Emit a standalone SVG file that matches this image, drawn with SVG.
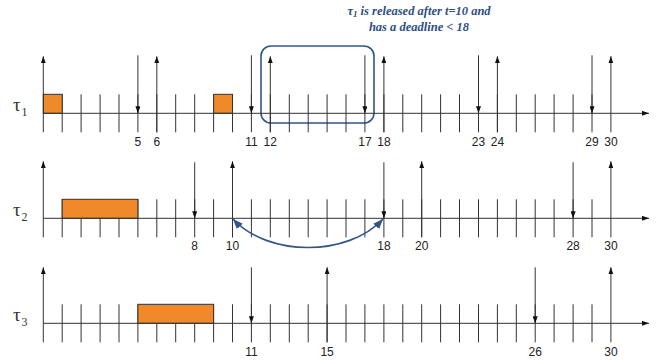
<svg xmlns="http://www.w3.org/2000/svg" xmlns:xlink="http://www.w3.org/1999/xlink" width="658" height="360" viewBox="0 0 658 360">
<style>
.ln{stroke:#333;stroke-width:1;fill:none}
.box{fill:#f0892a;stroke:#333;stroke-width:1}
.num{font-family:"Liberation Sans",Arial,sans-serif;font-size:12px;fill:#222;text-anchor:middle}
.tau{font-family:"Liberation Serif","Times New Roman",serif;fill:#333}
.note{font-family:"Liberation Serif","Times New Roman",serif;font-size:12.5px;font-weight:bold;font-style:italic;fill:#2f4f82;text-anchor:middle}
.blue{stroke:#31558a;stroke-width:1.6;fill:none}
</style>
<defs>
<marker id="ah" viewBox="0 0 7 5" refX="7" refY="2.5" markerWidth="7" markerHeight="5" markerUnits="userSpaceOnUse" orient="auto">
<path d="M0,0 L7,2.5 L0,5 z" fill="#111"/>
</marker>
<marker id="bh" viewBox="0 0 10 8" refX="10" refY="4" markerWidth="10" markerHeight="8" markerUnits="userSpaceOnUse" orient="auto-start-reverse">
<path d="M0,0 L10,4 L0,8 z" fill="#31558a"/>
</marker>
<path id="ticks" class="ln" d="M62.2,-19V19M81.1,-19V19M100.1,-19V19M119,-19V19M137.9,-19V19M156.8,-19V19M175.7,-19V19M194.7,-19V19M213.6,-19V19M232.5,-19V19M251.4,-19V19M270.3,-19V19M289.3,-19V19M308.2,-19V19M327.1,-19V19M346,-19V19M364.9,-19V19M383.9,-19V19M402.8,-19V19M421.7,-19V19M440.6,-19V19M459.5,-19V19M478.5,-19V19M497.4,-19V19M516.3,-19V19M535.2,-19V19M554.1,-19V19M573.1,-19V19M592,-19V19"/>
<path id="axis" class="ln" d="M43.3,0H649" marker-end="url(#ah)"/>
</defs>

<g id="annotation">
<text class="note" x="419" y="15">τ<tspan font-size="9" dy="2">1</tspan><tspan dy="-2"> is released after t=10 and</tspan></text>
<text class="note" x="419" y="31">has a deadline &lt; 18</text>
<rect x="261" y="46" width="113" height="77" rx="10" ry="10" class="blue"/>
</g>

<g id="tau1" transform="translate(0,113.3)">
<use xlink:href="#ticks"/>
<rect class="box" x="43.3" y="-19" width="18.9" height="19"/>
<rect class="box" x="213.6" y="-19" width="18.9" height="19"/>
<use xlink:href="#axis"/>
<g class="ln" marker-end="url(#ah)">
<path d="M43.3,19V-57"/><path d="M156.8,19V-57"/><path d="M270.3,19V-57"/><path d="M383.9,19V-57"/><path d="M497.4,19V-57"/><path d="M610.9,19V-57"/>
<path d="M137.9,-58V0"/><path d="M251.4,-58V0"/><path d="M364.9,-58V0"/><path d="M478.5,-58V0"/><path d="M592,-58V0"/>
</g>
<text class="tau" x="13" y="-2" font-size="19">τ</text><text class="tau" x="21.5" y="2.5" font-size="12">1</text>
<g class="num">
<text x="137.9" y="33">5</text><text x="156.8" y="33">6</text><text x="251.4" y="33">11</text><text x="270.3" y="33">12</text><text x="364.9" y="33">17</text><text x="383.9" y="33">18</text><text x="478.5" y="33">23</text><text x="497.4" y="33">24</text><text x="592" y="33">29</text><text x="610.9" y="33">30</text>
</g>
</g>

<g id="tau2" transform="translate(0,218.3)">
<use xlink:href="#ticks"/>
<rect class="box" x="62.2" y="-19" width="75.7" height="19"/>
<use xlink:href="#axis"/>
<g class="ln" marker-end="url(#ah)">
<path d="M43.3,19V-57"/><path d="M232.5,19V-57"/><path d="M421.7,19V-57"/><path d="M610.9,19V-57"/>
<path d="M194.7,-56V0"/><path d="M383.9,-56V0"/><path d="M573.1,-56V0"/>
</g>
<text class="tau" x="13" y="-2" font-size="19">τ</text><text class="tau" x="21.5" y="2.5" font-size="12">2</text>
<g class="num">
<text x="194.7" y="32">8</text><text x="232.5" y="32">10</text><text x="383.9" y="32">18</text><text x="421.7" y="32">20</text><text x="573.1" y="32">28</text><text x="610.9" y="32">30</text>
</g>
</g>

<g id="tau3" transform="translate(0,323.3)">
<use xlink:href="#ticks"/>
<rect class="box" x="137.9" y="-19" width="75.7" height="19"/>
<use xlink:href="#axis"/>
<g class="ln" marker-end="url(#ah)">
<path d="M43.3,19V-56"/><path d="M327.1,19V-56"/><path d="M610.9,19V-56"/>
<path d="M251.4,-56V0"/><path d="M535.2,-56V0"/>
</g>
<text class="tau" x="13" y="-2" font-size="19">τ</text><text class="tau" x="21.5" y="2.5" font-size="12">3</text>
<g class="num">
<text x="251.4" y="32.5">11</text><text x="327.1" y="32.5">15</text><text x="535.2" y="32.5">26</text><text x="610.9" y="32.5">30</text>
</g>
</g>

<g id="connectors">
<path class="blue" d="M233,219 C268,257 348,257 383,219" marker-start="url(#bh)" marker-end="url(#bh)"/>
</g>
</svg>
